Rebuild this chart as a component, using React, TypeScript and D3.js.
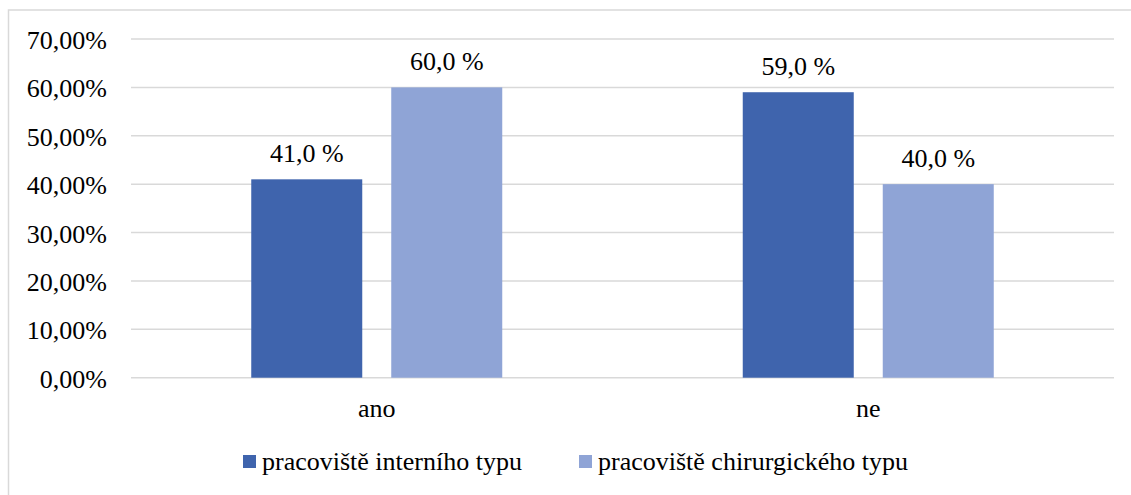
import React from "react";
import * as d3 from "d3";

const categories = ["ano", "ne"];
const seriesNames = ["pracoviště interního typu", "pracoviště chirurgického typu"];
const interni = [41.0, 59.0];
const chirurgicke = [60.0, 40.0];
const yTicks = [0, 10, 20, 30, 40, 50, 60, 70];
const colors = ["#3F64AD", "#8FA4D6"];

const W = 1131;
const H = 495;
const FONT = "Times New Roman";

export default function App() {
  const left = 131, right = 1114, top = 39, bottom = 377.7;
  const x = d3.scaleBand<string>().domain(categories).range([left, right]).padding(0);
  const y = d3.scaleLinear().domain([0, 70]).range([bottom, top]);
  const barW = 111, gap = 29;
  const series = [interni, chirurgicke];
  const fmtTick = (v: number) => v.toFixed(2).replace(".", ",") + "%";
  const fmtLabel = (v: number) => v.toFixed(1).replace(".", ",") + " %";

  return (
    <svg
      width={W}
      height={H}
      style={{ position: "absolute", left: 0, top: 0, background: "#fff" }}
    >
      <rect x={8.5} y={10} width={W + 10} height={H + 10} fill="#fff" stroke="#d9d9d9" strokeWidth={1.5} />
      {yTicks.map((t) => (
        <g key={t}>
          <line x1={left} x2={right} y1={y(t)} y2={y(t)} stroke="#d9d9d9" strokeWidth={1.5} />
          <text x={107} y={y(t) + 10} textAnchor="end" fontFamily={FONT} fontSize={26} fill="#000">
            {fmtTick(t)}
          </text>
        </g>
      ))}
      {categories.map((c, ci) => {
        const cx = x(c)! + x.bandwidth() / 2;
        const groupW = barW * 2 + gap;
        return (
          <g key={c}>
            {series.map((s, si) => {
              const bx = cx - groupW / 2 + si * (barW + gap);
              const v = s[ci];
              return (
                <g key={si}>
                  <rect x={bx} y={y(v)} width={barW} height={y(0) - y(v)} fill={colors[si]} />
                  <text x={bx + barW / 2} y={y(v) - 17.5} textAnchor="middle" fontFamily={FONT} fontSize={26} fill="#000">
                    {fmtLabel(v)}
                  </text>
                </g>
              );
            })}
            <text x={cx} y={417} textAnchor="middle" fontFamily={FONT} fontSize={26} fill="#000">
              {c}
            </text>
          </g>
        );
      })}
      {seriesNames.map((n, i) => {
        const lx = [243, 579][i];
        return (
          <g key={n}>
            <rect x={lx} y={455} width={13} height={13} fill={colors[i]} />
            <text x={lx + 19} y={470} fontFamily={FONT} fontSize={26} fill="#000">
              {n}
            </text>
          </g>
        );
      })}
    </svg>
  );
}
